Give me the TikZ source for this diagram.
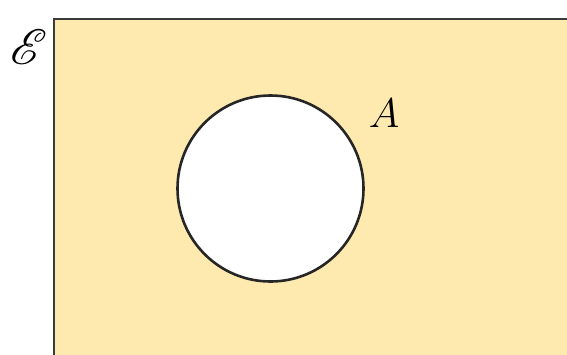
\documentclass[tikz,border=0pt]{standalone}
\usepackage{mathrsfs}
\definecolor{univfill}{HTML}{FEE9AE}
\definecolor{edgegray}{HTML}{3A3A3A}
\tikzset{
  universe/.style={draw=edgegray, line width=1.4pt, fill=univfill},
  setcircle/.style={circle, draw=black!85, line width=1.3pt, fill=white, minimum size=93pt, inner sep=0pt},
  setlabel/.style={font=\fontsize{22}{26}\selectfont, inner sep=0pt}
}
\begin{document}
\begin{tikzpicture}[x=0.5pt,y=-0.5pt]
\useasboundingbox (0,0) rectangle (567,354);
\clip (0,0) rectangle (567,354);
\draw[universe] (54,19) rectangle (600,380);
\node[setcircle] (Aset) at (270.5,188.5) {};
\node[setlabel] (Alabel) at (384,113) {$A$};
\node[setlabel, font=\fontsize{26}{30}\selectfont] (Elabel) at (29,47) {$\mathscr{E}$};
\end{tikzpicture}
\end{document}
